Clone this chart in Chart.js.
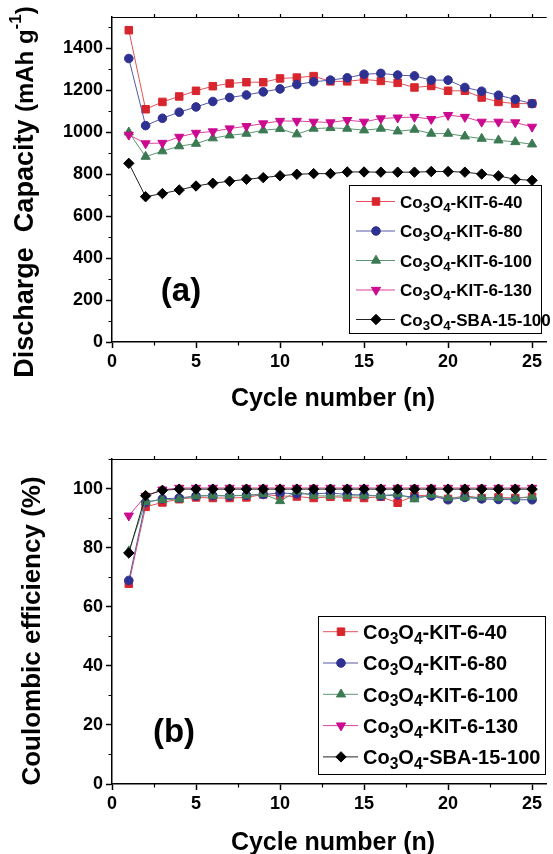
<!DOCTYPE html>
<html>
<head>
<meta charset="utf-8">
<title>Co3O4 cycling</title>
<script src="https://cdn.jsdelivr.net/npm/chart.js@4.4.1/dist/chart.umd.min.js"></script>
<style>
  html, body { margin: 0; padding: 0; background: #fff; overflow: hidden; }
  canvas { display: block; }
</style>
</head>
<body>
<canvas id="capChart" width="553" height="427"></canvas>
<canvas id="ceChart" width="553" height="427"></canvas>
<script>
const FAMILY = '"Liberation Sans", Arial, Helvetica, sans-serif'

// --- data ---
const cycles = [1, 2, 3, 4, 5, 6, 7, 8, 9, 10, 11, 12, 13, 14, 15, 16, 17, 18, 19, 20, 21, 22, 23, 24, 25]
const seriesNames = ['Co3O4-KIT-6-40', 'Co3O4-KIT-6-80', 'Co3O4-KIT-6-100', 'Co3O4-KIT-6-130', 'Co3O4-SBA-15-100']

// (a) discharge capacity, mAh/g
const capKit40 = [1487, 1110, 1145, 1171, 1198, 1220, 1233, 1239, 1239, 1257, 1261, 1268, 1243, 1243, 1252, 1245, 1236, 1214, 1221, 1198, 1198, 1166, 1145, 1137, 1137]
const capKit80 = [1352, 1032, 1067, 1096, 1121, 1147, 1166, 1178, 1193, 1207, 1228, 1241, 1249, 1260, 1277, 1281, 1273, 1269, 1249, 1249, 1214, 1196, 1177, 1157, 1137]
const capKit100 = [1000, 884, 910, 934, 946, 972, 986, 994, 1010, 1017, 991, 1018, 1021, 1018, 1010, 1018, 1005, 1013, 994, 994, 981, 970, 962, 954, 943]
const capKit130 = [988, 947, 949, 978, 997, 1004, 1018, 1029, 1042, 1054, 1054, 1050, 1047, 1058, 1050, 1066, 1070, 1073, 1063, 1082, 1073, 1050, 1050, 1047, 1026]
const capSba100 = [852, 693, 708, 725, 744, 757, 767, 776, 784, 793, 800, 803, 803, 811, 811, 810, 810, 810, 813, 813, 810, 801, 792, 776, 771]

// (b) coulombic efficiency, %
const ceKit40 = [67.8, 93.8, 95.3, 96.4, 97.0, 96.8, 96.8, 97.0, 98.0, 97.5, 97.3, 96.8, 97.2, 97.0, 96.8, 97.2, 95.2, 97.5, 97.8, 96.5, 97.5, 96.8, 97.0, 96.8, 97.2]
const ceKit80 = [68.9, 95.3, 96.5, 96.8, 97.5, 97.6, 97.5, 97.7, 98.0, 98.5, 98.2, 98.2, 98.5, 98.0, 97.8, 97.5, 97.8, 97.0, 97.5, 96.2, 97.0, 96.5, 96.3, 96.2, 96.2]
const ceKit100 = [78.8, 95.5, 96.2, 96.4, 97.5, 97.6, 97.6, 97.7, 98.2, 95.8, 99.0, 97.5, 97.5, 97.5, 97.5, 97.6, 98.1, 96.4, 97.9, 96.8, 97.0, 97.0, 96.8, 96.6, 97.3]
const ceKit130 = [90.8, 97.5, 99.6, 100.2, 100.2, 100.2, 100.2, 100.2, 100.2, 100.2, 100.2, 100.2, 100.2, 100.2, 100.2, 100.2, 100.2, 100.2, 100.2, 100.2, 100.2, 100.2, 100.2, 100.2, 100.2]
const ceSba100 = [78.2, 97.6, 99.4, 99.8, 99.8, 99.8, 99.8, 99.8, 99.8, 99.8, 99.8, 99.8, 99.8, 99.8, 99.8, 99.8, 99.8, 99.8, 99.8, 99.8, 99.8, 99.8, 99.8, 99.8, 99.8]

// tick labels
const cycleTicks = [0, 5, 10, 15, 20, 25]
const capTicks = [0, 200, 400, 600, 800, 1000, 1200, 1400]
const ceTicks = [0, 20, 40, 60, 80, 100]

// marker / line look for each series, same order as seriesNames
const seriesStyles = [
  { color: '#d8262e', line: '#e0525a', shape: 'rect', r: 5.3, rot: 0 },
  { color: '#2e3192', line: '#5559a8', shape: 'circle', r: 4.3, rot: 0 },
  { color: '#3b7a52', line: '#5e9672', shape: 'triangle', r: 5.3, rot: 0 },
  { color: '#cc0a8f', line: '#d8409f', shape: 'triangle', r: 5.3, rot: 180 },
  { color: '#000000', line: '#222222', shape: 'rectRot', r: 5.2, rot: 0 }
]

// splits "Co3O4-KIT-6-40" into runs so the digits of the formula become subscripts
function formulaRuns (label, size) {
  const cut = label.indexOf('-')
  const head = label.slice(0, cut)
  const runs = head.match(/[A-Za-z]+|\d+/g).map(p =>
    /\d/.test(p) ? { t: p, size: size * 0.78, dy: size * 0.24 } : { t: p, size })
  runs.push({ t: label.slice(cut), size })
  return runs
}

function runsWidth (ctx, runs) {
  let w = 0
  for (const r of runs) {
    ctx.font = `bold ${r.size}px ${FAMILY}`
    w += ctx.measureText(r.t).width
  }
  return w
}

function drawRuns (ctx, runs, x, y) {
  let cx = x
  for (const r of runs) {
    ctx.font = `bold ${r.size}px ${FAMILY}`
    ctx.fillText(r.t, cx, y + (r.dy || 0))
    cx += ctx.measureText(r.t).width
  }
}

function marker (ctx, opts, x, y) {
  if (Chart.helpers && Chart.helpers.drawPoint) {
    Chart.helpers.drawPoint(ctx, opts, x, y)
    return
  }
  const r = opts.radius
  ctx.beginPath()
  if (opts.pointStyle === 'circle') ctx.arc(x, y, r, 0, Math.PI * 2)
  else if (opts.pointStyle === 'rect') ctx.rect(x - r * 0.707, y - r * 0.707, r * 1.414, r * 1.414)
  else if (opts.pointStyle === 'rectRot') { ctx.moveTo(x - r, y); ctx.lineTo(x, y - r); ctx.lineTo(x + r, y); ctx.lineTo(x, y + r) }
  else {
    const s = opts.rotation === 180 ? -1 : 1
    ctx.moveTo(x, y - s * r); ctx.lineTo(x + r * 0.866, y + s * r / 2); ctx.lineTo(x - r * 0.866, y + s * r / 2)
  }
  ctx.closePath()
  ctx.fill()
  ctx.stroke()
}

// frame, minor ticks, rotated axis title, panel tag and the boxed legend
const decor = {
  id: 'decor',
  afterDraw (chart, args, o) {
    const { ctx, chartArea: a } = chart
    const xs = chart.scales.x
    const ys = chart.scales.y
    ctx.save()

    ctx.strokeStyle = '#000'
    ctx.lineWidth = 1.2
    ctx.beginPath()
    ctx.moveTo(a.left, a.top + 0.5)
    ctx.lineTo(a.right, a.top + 0.5)
    for (let k = 1; k * o.xMinor < xs.max; k++) {
      const px = Math.round(xs.getPixelForValue(k * o.xMinor)) + 0.5
      ctx.moveTo(px, a.top)
      ctx.lineTo(px, a.top - 3)
      if (k % 2) {
        ctx.moveTo(px, a.bottom)
        ctx.lineTo(px, a.bottom + 3.5)
      }
    }
    for (let k = 1; k * o.yMinor <= ys.max + 0.001; k += 2) {
      const py = Math.round(ys.getPixelForValue(k * o.yMinor)) + 0.5
      ctx.moveTo(a.left, py)
      ctx.lineTo(a.left - 3.5, py)
    }
    ctx.stroke()

    ctx.fillStyle = '#000'
    ctx.textBaseline = 'alphabetic'
    ctx.textAlign = 'left'

    // x title
    ctx.font = `bold ${o.xTitle.size}px ${FAMILY}`
    const xw = ctx.measureText(o.xTitle.text).width
    ctx.fillText(o.xTitle.text, o.xTitle.cx - xw / 2, o.xTitle.y)

    // y title, rotated
    ctx.save()
    ctx.translate(o.yTitle.x, o.yTitle.cy)
    ctx.rotate(-Math.PI / 2)
    const yw = runsWidth(ctx, o.yTitle.runs)
    drawRuns(ctx, o.yTitle.runs, -yw / 2, 0)
    ctx.restore()

    // panel tag
    ctx.font = `bold ${o.panel.size}px ${FAMILY}`
    ctx.textAlign = 'center'
    ctx.textBaseline = 'middle'
    ctx.fillText(o.panel.text, o.panel.x, o.panel.y)
    ctx.textAlign = 'left'
    ctx.textBaseline = 'alphabetic'

    // legend
    const L = o.legend
    ctx.fillStyle = '#fff'
    ctx.fillRect(L.x, L.y, L.w, L.h)
    ctx.strokeStyle = '#000'
    ctx.lineWidth = 1
    ctx.strokeRect(L.x + 0.5, L.y + 0.5, L.w, L.h)
    chart.data.datasets.forEach((ds, i) => {
      const ry = L.row0 + i * L.step
      ctx.strokeStyle = ds.borderColor
      ctx.lineWidth = 1
      ctx.beginPath()
      ctx.moveTo(L.line0, ry)
      ctx.lineTo(L.line1, ry)
      ctx.stroke()
      ctx.fillStyle = ds.backgroundColor
      ctx.strokeStyle = ds.pointBorderColor
      marker(ctx, { pointStyle: ds.pointStyle, radius: ds.pointRadius, rotation: ds.pointRotation, borderWidth: 1 }, L.mark, ry)
      ctx.fillStyle = '#000'
      drawRuns(ctx, formulaRuns(ds.label, L.font), L.text, ry + L.font * 0.36)
    })

    ctx.restore()
  }
}

function axis (ticks, min, max, extra) {
  return Object.assign({
    type: 'linear',
    min,
    max,
    afterBuildTicks: s => { s.ticks = ticks.map(v => ({ value: v })) },
    ticks: {
      color: '#000',
      font: { family: FAMILY, size: 18, weight: 'bold' },
      maxRotation: 0,
      autoSkip: false,
      callback: v => String(v)
    },
    grid: { drawOnChartArea: false, tickLength: 6, tickWidth: 1.5, tickColor: '#000' },
    border: { color: '#000', width: 1.5 }
  }, extra)
}

function buildChart (canvasId, valueSets, cfg) {
  return new Chart(document.getElementById(canvasId), {
    type: 'line',
    data: {
      datasets: valueSets.map((vals, i) => {
        const st = seriesStyles[i]
        return {
          label: seriesNames[i],
          data: cycles.map((c, k) => ({ x: c, y: vals[k] })),
          borderColor: st.line,
          backgroundColor: st.color,
          pointBorderColor: st.color,
          borderWidth: 1,
          pointStyle: st.shape,
          pointRadius: st.r,
          pointRotation: st.rot,
          pointBorderWidth: 1,
          order: cfg.order[i],
          tension: 0,
          fill: false
        }
      })
    },
    options: {
      responsive: false,
      animation: false,
      events: [],
      layout: { padding: { top: cfg.top, right: 0, bottom: 0, left: 0 } },
      scales: {
        x: axis(cycleTicks, 0, 25.87, {
          afterFit: s => { s.height = cfg.xHeight }
        }),
        y: axis(cfg.yTicks, 0, cfg.yMax, {
          afterFit: s => { s.width = 112 }
        })
      },
      plugins: {
        legend: { display: false },
        tooltip: { enabled: false },
        decor: cfg.decor
      }
    },
    plugins: [decor]
  })
}

buildChart('capChart', [capKit40, capKit80, capKit100, capKit130, capSba100], {
  top: 17,
  xHeight: 85,
  yMax: 1550,
  yTicks: capTicks,
  order: [1, 0, 3, 2, 4],
  decor: {
    xMinor: 2.5,
    yMinor: 100,
    xTitle: { text: 'Cycle number (n)', size: 25, cx: 333, y: 406 },
    yTitle: {
      x: 33,
      cy: 192,
      runs: [
        { t: 'Discharge  Capacity ', size: 27 },
        { t: '(mAh g', size: 24 },
        { t: '-1', size: 17, dy: -12 },
        { t: ')', size: 24 }
      ]
    },
    panel: { text: '(a)', size: 33, x: 181, y: 292 },
    legend: { x: 349, y: 185, w: 192, h: 148, row0: 201.5, step: 29.5, line0: 356, line1: 395, mark: 376, text: 400, font: 17 }
  }
})

buildChart('ceChart', [ceKit40, ceKit80, ceKit100, ceKit130, ceSba100], {
  top: 32,
  xHeight: 70,
  yMax: 110,
  yTicks: ceTicks,
  order: [3, 2, 1, 4, 0],
  decor: {
    xMinor: 2.5,
    yMinor: 10,
    xTitle: { text: 'Cycle number (n)', size: 25, cx: 333, y: 423 },
    yTitle: {
      x: 40,
      cy: 204,
      runs: [{ t: 'Coulombic efficiency (%)', size: 26 }]
    },
    panel: { text: '(b)', size: 33, x: 174, y: 306 },
    legend: { x: 318, y: 189, w: 227, h: 158, row0: 204.7, step: 31.3, line0: 323, line1: 358, mark: 341, text: 363, font: 20 }
  }
})
</script>
</body>
</html>
